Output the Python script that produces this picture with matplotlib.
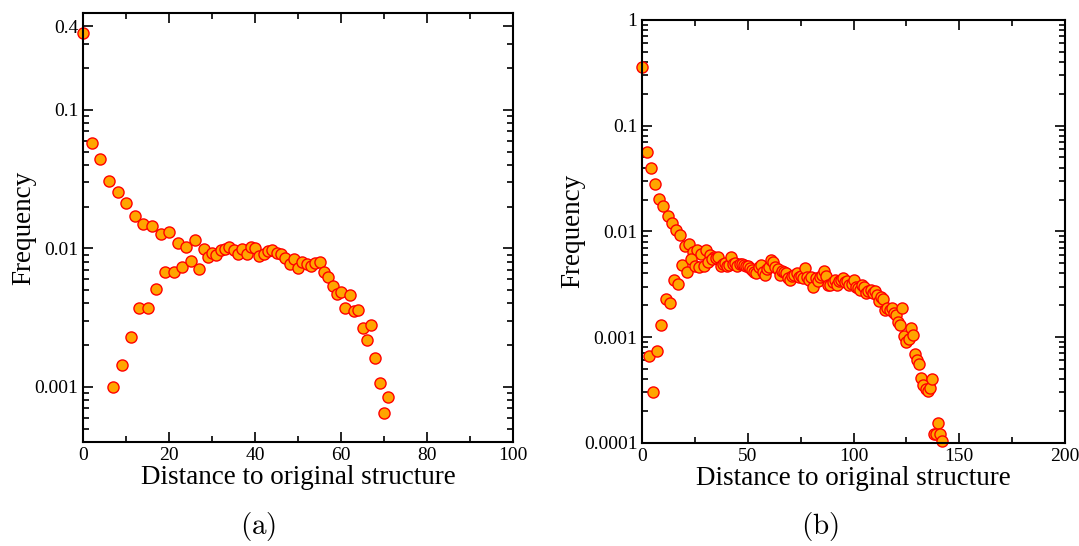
import numpy as np
import matplotlib
matplotlib.use('Agg')
import matplotlib.pyplot as plt
from matplotlib.ticker import FixedLocator, MultipleLocator, LogLocator, NullFormatter

# panel (a)
dist_a = [0, 2, 4, 6, 8, 10, 12, 14, 16, 18, 20, 22, 24, 26, 28,
          7, 9, 11, 13, 15, 17, 19, 21, 23, 25, 27,
          29, 30, 31, 32, 33, 34, 35, 36, 37, 38, 39, 40, 41, 42, 43, 44, 45, 46, 47, 48, 49, 50,
          51, 52, 53, 54, 55, 56, 57, 58, 59, 60, 61, 62, 63, 64, 65, 66, 67, 68, 69, 70, 71]
freq_a = [0.357, 0.0575, 0.0438, 0.0307, 0.0253, 0.0212, 0.0170, 0.0149, 0.0145, 0.0127, 0.0131, 0.0110, 0.0102, 0.0114, 0.00996,
          0.00100, 0.00143, 0.00228, 0.00373, 0.00373, 0.00512, 0.00671, 0.00675, 0.00733, 0.00810, 0.00706,
          0.00866, 0.00931, 0.00891, 0.00969, 0.00996, 0.0102, 0.00969, 0.00906, 0.00996, 0.00916, 0.0102, 0.0100,
          0.00875, 0.00906, 0.00957, 0.00969, 0.00925, 0.00906, 0.00857, 0.00774, 0.00841, 0.00726,
          0.00796, 0.00767, 0.00746, 0.00783, 0.00792, 0.00675, 0.00621, 0.00532, 0.00471, 0.00484,
          0.00373, 0.00458, 0.00352, 0.00357, 0.00266, 0.00217, 0.00278, 0.00162, 0.00106, 0.000643, 0.000841]

# panel (b)
dist_b = [0, 2, 4, 6, 8, 10, 12, 14, 16, 18, 20, 22, 24, 26, 28, 30, 32, 34,
          3, 5, 7, 9, 11, 13, 15, 17, 19, 21, 23, 25, 27, 29, 31, 33] + list(range(35, 143))
freq_b = [0.357, 0.0561, 0.0395, 0.0281, 0.0201, 0.0175, 0.0140, 0.0121, 0.0102, 0.0093, 0.0073, 0.0076,
          0.0064, 0.0067, 0.0061, 0.0067, 0.0060, 0.0057,
          0.00066, 0.00030, 0.00074, 0.0013, 0.0023, 0.0021, 0.0035, 0.0032, 0.0048, 0.0041, 0.0055,
          0.0047, 0.0046, 0.0047, 0.0051, 0.0055,
          # 35 .. 142
          0.0056, 0.0057, 0.0047, 0.0049, 0.0050, 0.0047, 0.0048, 0.0057, 0.0049, 0.0050,
          0.0047, 0.0049, 0.0049, 0.0048, 0.0047, 0.0047, 0.0045, 0.0043, 0.0041, 0.0040,
          0.0046, 0.0048, 0.0041, 0.0039, 0.0044, 0.0046, 0.0053, 0.0051, 0.0046, 0.0044,
          0.0039, 0.0042, 0.0041, 0.0040, 0.0036, 0.0035, 0.0038, 0.0039, 0.0040, 0.0037,
          0.0038, 0.0036, 0.0045, 0.0037, 0.0035, 0.0037, 0.0030, 0.0036, 0.0034, 0.0037,
          0.0039, 0.0042, 0.0038, 0.0031, 0.0031, 0.0033, 0.0035, 0.0031, 0.0034, 0.0035,
          0.0036, 0.0033, 0.0034, 0.0031, 0.0032, 0.0035, 0.0030, 0.0029, 0.0028, 0.0031,
          0.0030, 0.0026, 0.0027, 0.0028, 0.0026, 0.0027, 0.0025, 0.0022, 0.0024, 0.0023,
          0.0018, 0.0019, 0.0018, 0.0019, 0.0017, 0.0016, 0.0014, 0.0013, 0.0019, 0.00103,
          0.00090, 0.00095, 0.00122, 0.00105, 0.00069, 0.00060, 0.00055, 0.00041, 0.00035, 0.00032,
          0.00031, 0.00033, 0.00040, 0.000122, 0.000121, 0.000155, 0.000122, 0.000104]

yt_a = [0.001, 0.01, 0.1, 0.4]
yl_a = ['0.001', '0.01', '0.1', '0.4']
yt_b = [0.0001, 0.001, 0.01, 0.1, 1]
yl_b = ['0.0001', '0.001', '0.01', '0.1', '1']

plt.rcParams['font.family'] = ['Liberation Serif', 'DejaVu Serif']
plt.rcParams['mathtext.fontset'] = 'cm'

fig = plt.figure(figsize=(10.79, 5.46), dpi=100)
ax1 = fig.add_axes([0.0772, 0.1905, 0.3982, 0.7857])
ax2 = fig.add_axes([0.5953, 0.1892, 0.3917, 0.7742])


def style(ax, xmax, xmaj, xmin, ylim, yt, yl):
    ax.set_yscale('log')
    ax.set_xlim(0, xmax)
    ax.set_ylim(*ylim)
    ax.xaxis.set_major_locator(MultipleLocator(xmaj))
    ax.xaxis.set_minor_locator(MultipleLocator(xmin))
    ax.yaxis.set_major_locator(FixedLocator(yt))
    ax.set_yticklabels(yl)
    ax.yaxis.set_minor_locator(LogLocator(base=10, subs=np.arange(2, 10), numticks=20))
    ax.yaxis.set_minor_formatter(NullFormatter())
    ax.tick_params(which='both', direction='in', top=True, right=True, labelsize=14, width=1.2)
    ax.tick_params(which='major', length=7)
    ax.tick_params(which='minor', length=4)
    for s in ax.spines.values():
        s.set_linewidth(1.5)
    ax.set_xlabel('Distance to original structure', fontsize=19.5, labelpad=1)
    ax.set_ylabel('Frequency', fontsize=19.5, labelpad=-1)


ax1.plot(dist_a, freq_a, 'o', ms=8, mfc='#FFA500', mec='red', mew=1, clip_on=False)
ax2.plot(dist_b, freq_b, 'o', ms=8, mfc='#FFA500', mec='red', mew=1, clip_on=False)
style(ax1, 100, 20, 10, (0.0004, 0.5), yt_a, yl_a)
style(ax2, 200, 50, 25, (0.0001, 1), yt_b, yl_b)

fig.text(0.239, 0.022, r'$\mathrm{(a)}$', fontsize=21, ha='center')
fig.text(0.760, 0.022, r'$\mathrm{(b)}$', fontsize=21, ha='center')

fig.savefig('out.png', dpi=100)
